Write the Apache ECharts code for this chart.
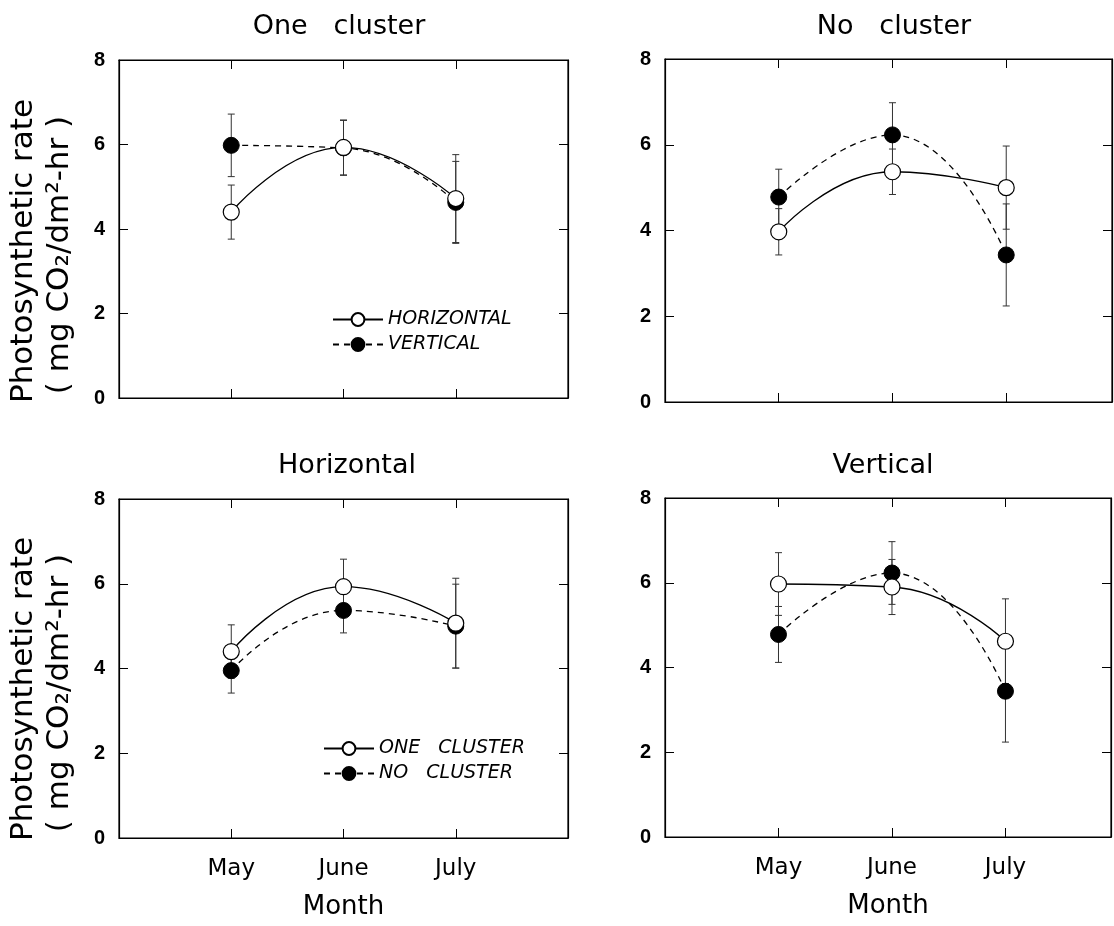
<!DOCTYPE html>
<html>
<head>
<meta charset="utf-8">
<script src="https://cdn.jsdelivr.net/npm/echarts@6/dist/echarts.min.js"></script>
<style>
html,body{margin:0;padding:0;background:#fff;}
#chart{width:1114px;height:926px;}
</style>
</head>
<body>
<div id="chart"></div>
<script>
// ---------- data ----------
const months = ['May', 'June', 'July'];
const monthPos = [1, 2, 3];
const yTicks = [0, 2, 4, 6, 8];
const panelTitles = ['One   cluster', 'No   cluster', 'Horizontal', 'Vertical'];
const yTitle1 = 'Photosynthetic rate';
const yTitle2 = '( mg CO\u2082/dm\u00B2-hr )';
const xTitle = 'Month';

// Panel 1: One cluster
const p1Open = [4.40, 5.93, 4.72];
const p1OpenErr = [0.64, 0.65, 1.04];
const p1Filled = [5.98, 5.92, 4.63];
const p1FilledErr = [0.74, 0.65, 0.97];
// Panel 2: No cluster
const p2Open = [3.97, 5.37, 5.00];
const p2OpenErr = [0.54, 0.53, 0.97];
const p2Filled = [4.78, 6.23, 3.43];
const p2FilledErr = [0.65, 0.75, 1.19];
// Panel 3: Horizontal
const p3Open = [4.40, 5.93, 5.07];
const p3OpenErr = [0.63, 0.65, 1.06];
const p3Filled = [3.95, 5.37, 5.00];
const p3FilledErr = [0.53, 0.53, 0.99];
// Panel 4: Vertical
const p4Open = [5.97, 5.90, 4.62];
const p4OpenErr = [0.74, 0.65, 1.00];
const p4Filled = [4.78, 6.23, 3.44];
const p4FilledErr = [0.66, 0.74, 1.20];

const legend1 = ['HORIZONTAL', 'VERTICAL'];
const legend3 = ['ONE   CLUSTER', 'NO   CLUSTER'];

// ---------- layout ----------
const grids = [
  {left: 119, top: 60, width: 449, height: 338, xmax: 4},
  {left: 665, top: 59, width: 447, height: 343, xmax: 3.93},
  {left: 119, top: 499, width: 449, height: 339, xmax: 4},
  {left: 665, top: 498, width: 447, height: 339, xmax: 3.93}
];

const FONT = 'DejaVu Sans';

const chart = echarts.init(document.getElementById('chart'), null, {renderer: 'canvas'});

function pts(vals) { return vals.map((v, i) => [monthPos[i], v]); }
function errPts(vals, errs) { return vals.map((v, i) => [monthPos[i], v - errs[i], v + errs[i]]); }

function errRender(params, api) {
  const x = api.value(0), lo = api.value(1), hi = api.value(2);
  const a = api.coord([x, lo]);
  const b = api.coord([x, hi]);
  const w = 3.5;
  const st = {stroke: '#333', lineWidth: 1};
  return {
    type: 'group',
    children: [
      {type: 'line', shape: {x1: a[0], y1: a[1], x2: b[0], y2: b[1]}, style: st},
      {type: 'line', shape: {x1: a[0] - w, y1: a[1], x2: a[0] + w, y2: a[1]}, style: st},
      {type: 'line', shape: {x1: b[0] - w, y1: b[1], x2: b[0] + w, y2: b[1]}, style: st}
    ]
  };
}

const panels = [
  {open: p1Open, openErr: p1OpenErr, filled: p1Filled, filledErr: p1FilledErr, names: legend1},
  {open: p2Open, openErr: p2OpenErr, filled: p2Filled, filledErr: p2FilledErr, names: ['HORIZONTAL_2', 'VERTICAL_2']},
  {open: p3Open, openErr: p3OpenErr, filled: p3Filled, filledErr: p3FilledErr, names: legend3},
  {open: p4Open, openErr: p4OpenErr, filled: p4Filled, filledErr: p4FilledErr, names: ['ONE_4', 'NO_4']}
];

const xAxes = [], yAxes = [], series = [], titles = [], gridOpts = [];
const tickStyle = {show: true, inside: true, length: 9, lineStyle: {color: '#000', width: 1}};
const lineStyleAxis = {show: true, onZero: false, lineStyle: {color: '#000', width: 1.2}};

grids.forEach((g, i) => {
  gridOpts.push({left: g.left, top: g.top, width: g.width, height: g.height, show: true,
    borderColor: '#000', borderWidth: 1.2, backgroundColor: 'transparent', containLabel: false});
  const bottomRow = i >= 2;
  xAxes.push({
    gridIndex: i, type: 'value', position: 'bottom', min: 0, max: g.xmax, interval: 1,
    axisLine: lineStyleAxis, axisTick: tickStyle, splitLine: {show: false},
    axisLabel: {
      show: bottomRow, margin: 20, color: '#000', fontFamily: FONT, fontSize: 23,
      formatter: v => { const k = monthPos.indexOf(v); return k >= 0 ? months[k] : ''; }
    },
    name: bottomRow ? xTitle : '', nameLocation: 'middle', nameGap: 56,
    nameTextStyle: {color: '#000', fontFamily: FONT, fontSize: 26}
  });
  yAxes.push({
    gridIndex: i, type: 'value', position: 'left', min: 0, max: 8, interval: 2,
    axisLine: lineStyleAxis, axisTick: tickStyle, splitLine: {show: false},
    axisLabel: {show: true, margin: 14, color: '#000', fontFamily: 'Liberation Sans', fontWeight: 'bold', fontSize: 20,
      formatter: v => yTicks.indexOf(v) >= 0 ? String(v) : ''}
  });
});
grids.forEach((g, i) => {
  xAxes.push({
    gridIndex: i, type: 'value', position: 'top', min: 0, max: g.xmax, interval: 1,
    axisLine: lineStyleAxis, axisTick: tickStyle, axisLabel: {show: false}, splitLine: {show: false}
  });
  yAxes.push({
    gridIndex: i, type: 'value', position: 'right', min: 0, max: 8, interval: 2,
    axisLine: lineStyleAxis, axisTick: tickStyle, axisLabel: {show: false}, splitLine: {show: false}
  });
});

panels.forEach((p, i) => {
  series.push({
    type: 'custom', name: 'err_open_' + i, xAxisIndex: i, yAxisIndex: i,
    renderItem: errRender, data: errPts(p.open, p.openErr), encode: {x: 0, y: [1, 2]}, z: 1, silent: true
  });
  series.push({
    type: 'custom', name: 'err_filled_' + i, xAxisIndex: i, yAxisIndex: i,
    renderItem: errRender, data: errPts(p.filled, p.filledErr), encode: {x: 0, y: [1, 2]}, z: 1, silent: true
  });
  series.push({
    type: 'line', name: p.names[1], xAxisIndex: i, yAxisIndex: i, data: pts(p.filled),
    smooth: 0.5, symbol: 'circle', symbolSize: 16,
    itemStyle: {color: '#000', borderColor: '#000', borderWidth: 1},
    lineStyle: {color: '#000', width: 1.3, type: [6, 5]}, z: 3
  });
  series.push({
    type: 'line', name: p.names[0], xAxisIndex: i, yAxisIndex: i, data: pts(p.open),
    smooth: 0.5, symbol: 'circle', symbolSize: 16,
    itemStyle: {color: '#fff', borderColor: '#000', borderWidth: 1.2},
    lineStyle: {color: '#000', width: 1.3, type: 'solid'}, z: 4
  });
});

const titlePos = [
  {x: 334, y: 8}, {x: 889, y: 8}, {x: 342, y: 447}, {x: 878, y: 447}
];
panelTitles.forEach((t, i) => {
  titles.push({text: t, left: titlePos[i].x, top: titlePos[i].y, textAlign: 'center',
    textStyle: {fontFamily: FONT, fontSize: 27, fontWeight: 'normal', color: '#000'}});
});

const legendStyle = {
  orient: 'vertical', itemWidth: 50, itemHeight: 16, itemGap: 6,
  textStyle: {fontFamily: FONT, fontStyle: 'italic', fontSize: 19, color: '#000'},
  selectedMode: false
};

const yTitleRows = [251, 689];
const graphics = [];
yTitleRows.forEach(cy => {
  graphics.push({type: 'text', x: 24, y: cy, rotation: Math.PI / 2,
    style: {text: yTitle1, font: '31px "DejaVu Sans"', fill: '#000', textAlign: 'center', textVerticalAlign: 'middle'}});
  graphics.push({type: 'text', x: 60, y: cy + 4, rotation: Math.PI / 2,
    style: {text: yTitle2, font: '31px "DejaVu Sans"', fill: '#000', textAlign: 'center', textVerticalAlign: 'middle'}});
});

chart.setOption({
  backgroundColor: '#fff',
  animation: false,
  title: titles,
  grid: gridOpts,
  xAxis: xAxes,
  yAxis: yAxes,
  legend: [
    Object.assign({}, legendStyle, {data: legend1, left: 327, top: 305}),
    Object.assign({}, legendStyle, {data: legend3, left: 318, top: 734})
  ],
  graphic: graphics,
  series: series
});
</script>
</body>
</html>
